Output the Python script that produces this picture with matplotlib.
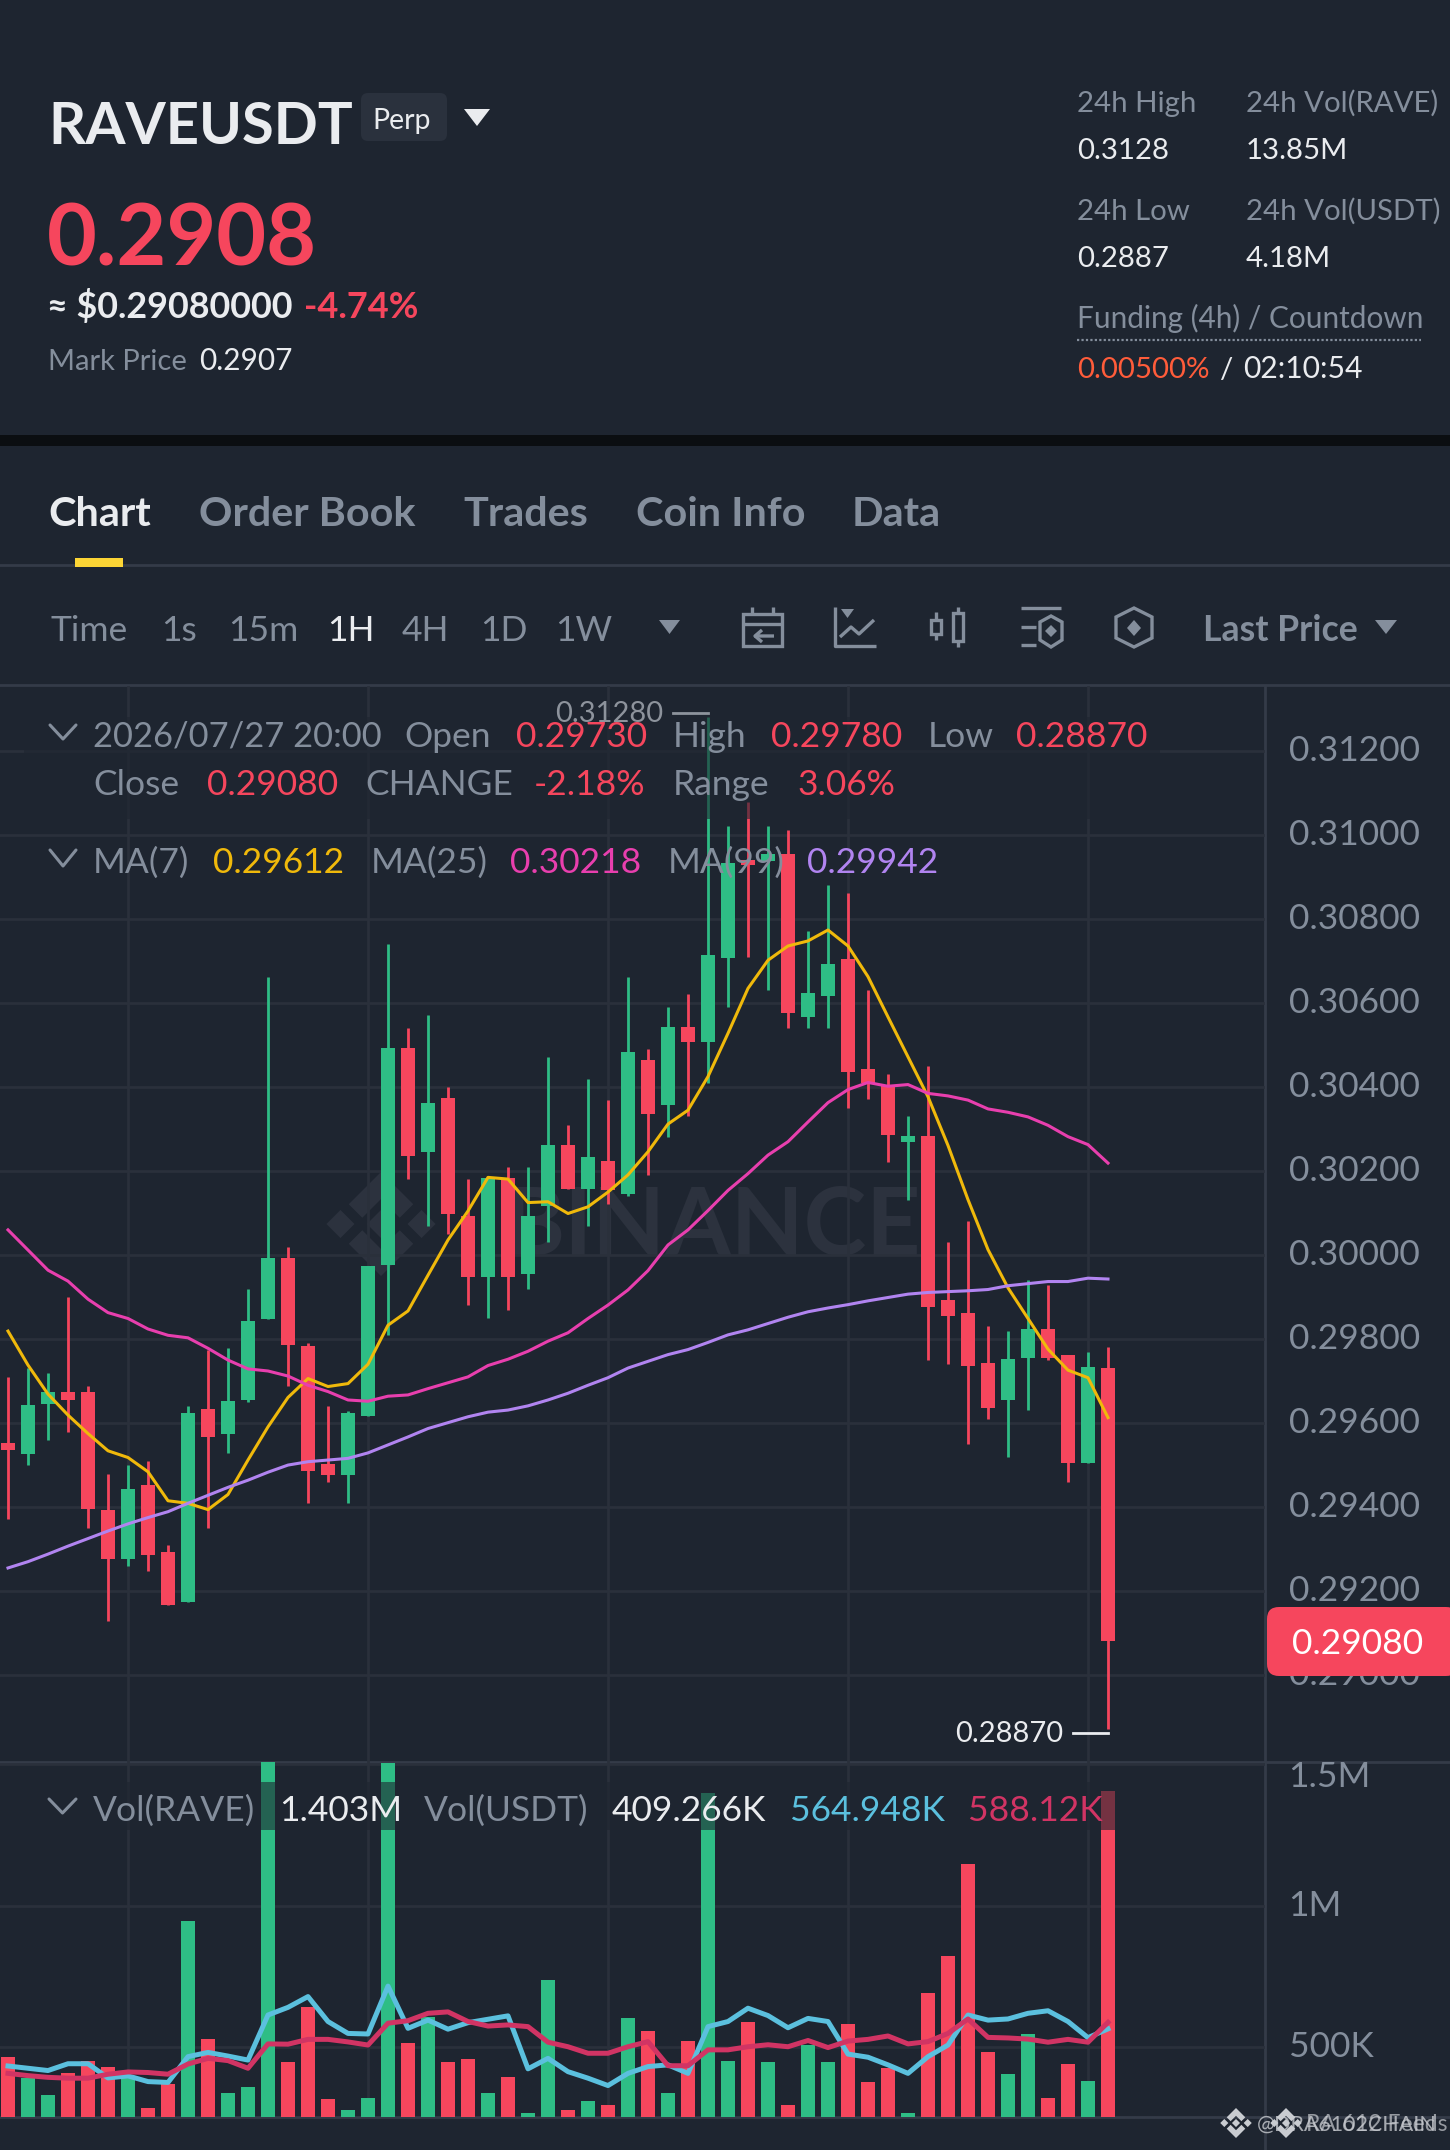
import matplotlib
matplotlib.use('Agg')
from matplotlib import pyplot as plt
from matplotlib.patches import FancyBboxPatch, Polygon, Rectangle
from matplotlib.transforms import ScaledTranslation

W, H = 1450, 2150
BG = '#1e2530'
GRID = '#2a303b'
SEP = '#343b48'
GRAY = '#848e9c'
WHITE = '#eaecef'
GREEN = '#2ebd85'
RED = '#f6465d'
MARK = '#2c323e'

# Candles, hourly, oldest first
opens = [0.29551, 0.29526, 0.29645, 0.29672, 0.29672, 0.29392, 0.29275, 0.29451,
         0.29292, 0.29174, 0.29632, 0.29574, 0.29655, 0.29846, 0.29993, 0.29782,
         0.29501, 0.29475, 0.29615, 0.29975, 0.30493, 0.30245, 0.30373, 0.30093,
         0.29946, 0.30182, 0.29955, 0.30116, 0.30262, 0.30156, 0.30223, 0.30145,
         0.30463, 0.30356, 0.30543, 0.30506, 0.30706, 0.30939, 0.30937, 0.30954,
         0.30566, 0.30616, 0.30703, 0.30443, 0.30404, 0.30269, 0.30282, 0.29893,
         0.29862, 0.29741, 0.29655, 0.29755, 0.29822, 0.29762, 0.29505, 0.2973]
closes = [0.29535, 0.29641, 0.29672, 0.29655, 0.29394, 0.29275, 0.29441, 0.29285,
          0.29165, 0.29622, 0.29565, 0.29651, 0.29842, 0.29993, 0.29785, 0.29485,
          0.29475, 0.29622, 0.29972, 0.30493, 0.30235, 0.30362, 0.30096, 0.29946,
          0.30182, 0.29946, 0.30093, 0.30262, 0.30156, 0.30232, 0.30155, 0.30482,
          0.30336, 0.30543, 0.30506, 0.30713, 0.30933, 0.30927, 0.30953, 0.30576,
          0.30623, 0.30693, 0.30435, 0.30408, 0.30285, 0.30282, 0.29875, 0.29855,
          0.29736, 0.29636, 0.29752, 0.29822, 0.29754, 0.29505, 0.29732, 0.2908]
highs = [0.29708, 0.29729, 0.29718, 0.29899, 0.29688, 0.29478, 0.29498, 0.29508,
         0.29308, 0.29639, 0.29774, 0.29778, 0.29918, 0.3066, 0.30019, 0.29789,
         0.29639, 0.29628, 0.29972, 0.30739, 0.30539, 0.3057, 0.30399, 0.30179,
         0.30185, 0.30209, 0.30209, 0.3047, 0.30308, 0.30419, 0.30368, 0.3066,
         0.30489, 0.30589, 0.3062, 0.3128, 0.3102, 0.31078, 0.3102, 0.3101,
         0.3077, 0.3088, 0.3086, 0.3063, 0.30429, 0.3033, 0.30449, 0.30029,
         0.30079, 0.29829, 0.29818, 0.29939, 0.29927, 0.29762, 0.29768, 0.2978]
lows = [0.2937, 0.29499, 0.29559, 0.29578, 0.29348, 0.29128, 0.29259, 0.29247,
        0.29165, 0.29174, 0.29348, 0.29528, 0.29648, 0.29846, 0.29688, 0.29409,
        0.29459, 0.29409, 0.29615, 0.29809, 0.30179, 0.30069, 0.30049, 0.29879,
        0.29849, 0.29869, 0.29919, 0.30029, 0.30156, 0.30069, 0.3012, 0.3014,
        0.30189, 0.30279, 0.3033, 0.30409, 0.30589, 0.30709, 0.3063, 0.30539,
        0.30539, 0.30539, 0.3035, 0.3037, 0.3022, 0.3013, 0.29749, 0.29739,
        0.29548, 0.29608, 0.29519, 0.29629, 0.29749, 0.29458, 0.29505, 0.2887]

ma7 = [0.29818, 0.29737, 0.29668, 0.29618, 0.29574, 0.29533, 0.29517, 0.29483,
       0.29414, 0.29408, 0.29393, 0.29429, 0.29511, 0.2959, 0.2966, 0.29705,
       0.29686, 0.29693, 0.29739, 0.29832, 0.29866, 0.29951, 0.30035, 0.30104,
       0.30184, 0.3018, 0.30124, 0.30126, 0.30098, 0.30114, 0.30149, 0.3019,
       0.30245, 0.30311, 0.30344, 0.30424, 0.30527, 0.30634, 0.30701, 0.30735,
       0.30747, 0.30773, 0.30735, 0.30662, 0.30566, 0.30471, 0.30376, 0.3026,
       0.30131, 0.30012, 0.29921, 0.29848, 0.29775, 0.29725, 0.29707, 0.29612]
ma25 = [0.30059, 0.30011, 0.29963, 0.29937, 0.29894, 0.29862, 0.29848, 0.29823,
        0.29808, 0.29802, 0.29777, 0.29749, 0.29728, 0.29723, 0.29711, 0.29689,
        0.29674, 0.29654, 0.29651, 0.29663, 0.29666, 0.29681, 0.29695, 0.29709,
        0.29736, 0.29751, 0.2977, 0.29794, 0.29814, 0.29848, 0.2988, 0.29916,
        0.29962, 0.30023, 0.30059, 0.30105, 0.30153, 0.30193, 0.30237, 0.30269,
        0.30316, 0.30362, 0.30393, 0.3041, 0.30401, 0.30405, 0.30384, 0.30378,
        0.30368, 0.30347, 0.30339, 0.30328, 0.30308, 0.30281, 0.30262, 0.30218]
ma99 = [0.29254, 0.29269, 0.29287, 0.29306, 0.29324, 0.29342, 0.29359, 0.29374,
        0.29388, 0.29408, 0.29427, 0.29446, 0.29463, 0.29482, 0.29499, 0.29507,
        0.29511, 0.29515, 0.29528, 0.29547, 0.29566, 0.29586, 0.296, 0.29614,
        0.29625, 0.2963, 0.2964, 0.29654, 0.2967, 0.29689, 0.29707, 0.2973,
        0.29746, 0.29762, 0.29774, 0.29791, 0.29809, 0.29821, 0.29836, 0.29851,
        0.29864, 0.29873, 0.29881, 0.2989, 0.29898, 0.29906, 0.2991, 0.29912,
        0.29914, 0.29917, 0.29926, 0.29931, 0.29936, 0.29936, 0.29944, 0.29942]

# Volume, in thousands of RAVE
volumes = [467, 391, 331, 408, 452, 429, 391, 285, 369, 945, 528, 340, 359, 1516,
           448, 644, 318, 278, 322, 1505, 516, 608, 447, 460, 338, 394, 267, 736,
           279, 311, 295, 604, 556, 339, 522, 1399, 452, 589, 448, 298, 508, 447,
           582, 379, 428, 267, 692, 822, 1146, 482, 405, 546, 321, 440, 381, 1403]
vol_ma_usdt = [434, 426, 418, 442, 442, 392, 399, 379, 376, 467, 482, 469, 455, 614,
               641, 679, 591, 549, 547, 716, 567, 596, 564, 587, 599, 611, 424, 461,
               414, 391, 365, 408, 432, 438, 408, 573, 591, 638, 612, 569, 602, 591,
               476, 465, 438, 408, 467, 508, 614, 596, 600, 620, 629, 591, 534, 565]
vol_ma_rave = [408, 400, 394, 391, 391, 405, 413, 411, 405, 441, 461, 453, 426, 512,
               511, 528, 528, 519, 508, 585, 594, 620, 625, 591, 575, 579, 573, 518,
               502, 479, 479, 502, 520, 435, 435, 491, 491, 502, 509, 502, 524, 499,
               522, 528, 540, 512, 520, 549, 600, 535, 533, 529, 518, 528, 518, 588]

price_ticks = [0.312, 0.310, 0.308, 0.306, 0.304, 0.302, 0.300, 0.298, 0.296, 0.294, 0.292, 0.290]
vol_ticks = [500, 1000, 1500]
vol_tick_labels = ['500K', '1M', '1.5M']
time_ticks = [6, 18, 30, 42, 54]

tabs = [('Chart', 48), ('Order Book', 199), ('Trades', 463), ('Coin Info', 636), ('Data', 852)]
intervals = [('Time', 51), ('1s', 161), ('15m', 228), ('1H', 327), ('4H', 402), ('1D', 480), ('1W', 555)]

plt.rcParams['font.family'] = ['Lato', 'DejaVu Sans']
fig = plt.figure(figsize=(W / 100, H / 100), dpi=100, facecolor=BG)


def px_axes(zorder):
    ax = fig.add_axes([0, 0, 1, 1], zorder=zorder)
    ax.set_xlim(0, W)
    ax.set_ylim(H, 0)
    ax.axis('off')
    ax.patch.set_alpha(0)
    return ax


def pane(top, bottom):
    ax = fig.add_axes([0, 1 - bottom / H, 1265 / W, (bottom - top) / H], zorder=1, facecolor='none')
    # candle i sits at pixel 8 + 20 * i
    ax.set_xlim(-0.4, 62.85)
    ax.set_xticks(time_ticks)
    ax.tick_params(axis='x', length=0, labelbottom=False)
    ax.tick_params(axis='y', length=0, labelcolor=GRAY, labelsize=25.5, pad=17,
                   left=False, labelleft=False, labelright=True)
    ax.grid(color=GRID, lw=2.0)
    ax.set_axisbelow(True)
    for spine in ax.spines.values():
        spine.set_visible(False)
    return ax


def lift_labels(ax):
    for lbl in ax.get_yticklabels():
        lbl.set_transform(lbl.get_transform() + ScaledTranslation(0, 0.03, fig.dpi_scale_trans))


back = px_axes(0)
front = px_axes(5)
ax = pane(686, 1762)
vol_ax = pane(1762, 2117)


def logo(target, cx, cy, s, color):
    d = 0.27 * s
    for ox in (0, -0.78 * s, 0.78 * s):
        target.add_patch(Polygon([(cx + ox - d, cy), (cx + ox, cy - d), (cx + ox + d, cy), (cx + ox, cy + d)],
                                 fc=color, ec='none'))
    for sign in (-1, 1):
        a = cy + sign * s
        pts = [(0, 0), (0.62, 0.62), (0.36, 0.88), (0, 0.52), (-0.36, 0.88), (-0.62, 0.62)]
        target.add_patch(Polygon([(cx + px * s, a - sign * py * s) for px, py in pts], fc=color, ec='none'))


# header and toolbar background bits
back.add_patch(Rectangle((0, 435), W, 11, fc='#0b0e11', ec='none'))
for y in (565, 685, 1762, 2117):
    back.plot([0, W], [y, y], color=SEP, lw=2.0)
back.plot([1265, 1265], [686, H], color=SEP, lw=2.0)
logo(back, 381, 1224, 52, MARK)
back.text(502, 1255, 'BINANCE', color=MARK, fontsize=68, fontweight='bold', va='baseline')


def label(x, y, s, color=GRAY, size=25.5, weight='normal', **kw):
    return front.text(x, y, s, color=color, fontsize=size, fontweight=weight, va='baseline', **kw)


def tri(x0, x1, y0, y1, color):
    front.add_patch(Polygon([(x0, y0), (x1, y0), ((x0 + x1) / 2, y1)], fc=color, ec='none'))


def chevron(x0, x1, y0, y1):
    front.plot([x0, (x0 + x1) / 2, x1], [y0, y1, y0], color=GRAY, lw=2.2, solid_capstyle='round')


# main pane
x = range(len(closes))
for i in x:
    c = GREEN if closes[i] >= opens[i] else RED
    ax.vlines(i, lows[i], highs[i], color=c, lw=2.0, zorder=3)
    ax.bar(i, abs(closes[i] - opens[i]), bottom=min(opens[i], closes[i]), width=0.7, color=c, zorder=3)
ax.plot(x, ma7, color='#f0b90b', lw=2.2, zorder=4)
ax.plot(x, ma25, color='#e83fae', lw=2.2, zorder=4)
ax.plot(x, ma99, color='#b184f0', lw=2.2, zorder=4)
ax.set_ylim(0.28792, 0.31354)
ax.set_yticks(price_ticks)
ax.set_yticklabels([f'{v:.5f}' for v in price_ticks])
lift_labels(ax)

# volume pane
vol_colors = [GREEN if closes[i] >= opens[i] else RED for i in x]
vol_ax.bar(x, volumes, width=0.7, color=vol_colors, zorder=3)
vol_ax.plot(x, vol_ma_usdt, color='#5bc0de', lw=3.6, zorder=4)
vol_ax.plot(x, vol_ma_rave, color='#d13464', lw=3.6, zorder=4)
vol_ax.set_ylim(254, 1507)
vol_ax.set_yticks(vol_ticks)
vol_ax.set_yticklabels(vol_tick_labels)
vol_ax.get_yticklabels()[2].set_va('top')
lift_labels(vol_ax)

# dim strips under the indicator legends
front.add_patch(Rectangle((24, 717), 1136, 102, fc=BG, ec='none', alpha=0.6, zorder=1))
front.add_patch(Rectangle((24, 1782), 1100, 48, fc=BG, ec='none', alpha=0.6, zorder=1))

# last price flag and extremes
front.add_patch(FancyBboxPatch((1275, 1615), 175, 53, boxstyle='round,pad=8,rounding_size=12',
                               fc=RED, ec='none', clip_on=True))
label(1292, 1654, '0.29080', color='white')
label(555, 722, '0.31280', color='#8d939c', size=21)
front.plot([673, 708], [713, 713], color='#8d939c', lw=2)
label(955, 1742, '0.28870', color=WHITE, size=21)
front.plot([1073, 1108], [1733, 1733], color=WHITE, lw=2)

# header left
label(48, 144, 'RAVEUSDT', color=WHITE, size=41.8, weight='bold')
front.add_patch(FancyBboxPatch((366, 98), 76, 38, boxstyle='round,pad=5,rounding_size=7', fc='#2a313d', ec='none'))
label(372, 129, 'Perp', color=WHITE, size=20.5)
tri(464, 490, 109, 126, WHITE)
label(47, 265, '0.2908', color=RED, size=62, weight='bold')
label(47, 318, '≈ $0.29080000', color=WHITE, size=25.8, weight='bold')
label(304, 318, '-4.74%', color=RED, size=26, weight='bold')
label(48, 370, 'Mark Price', size=21)
label(199, 370, '0.2907', color=WHITE, size=21.5)

# header right
for col, head, val in [(1077, '24h High', '0.3128'), (1246, '24h Vol(RAVE)', '13.85M')]:
    label(col, 112, head, size=21.2)
    label(col, 159, val, color=WHITE, size=21.2)
for col, head, val in [(1077, '24h Low', '0.2887'), (1246, '24h Vol(USDT)', '4.18M')]:
    label(col, 220, head, size=21.2)
    label(col, 267, val, color=WHITE, size=21.2)
label(1077, 328, 'Funding (4h) / Countdown', size=21.4)
front.plot([1077, 1421], [340, 340], color=GRAY, lw=1.6, ls=(0, (1, 1)))
label(1077, 378, '0.00500%', color='#ff5c3a', size=21.2)
label(1219, 378, '/', color=WHITE, size=21.2)
label(1243, 378, '02:10:54', color=WHITE, size=21.6)

# tabs
for name, tx in tabs:
    label(tx, 526, name, color=WHITE if name == 'Chart' else GRAY, size=29.8, weight='bold')
front.add_patch(Rectangle((75, 558), 48, 9, fc='#fcd535', ec='none'))

# toolbar
for name, tx in intervals:
    label(tx, 641, name, color=WHITE if name == '1H' else GRAY)
tri(659, 680, 620, 634, GRAY)
label(1203, 641, 'Last Price', size=25.7, weight='bold')
tri(1375, 1397, 620, 634, GRAY)

# toolbar icons
ic = dict(color=GRAY, lw=2.4, solid_capstyle='butt')
front.add_patch(Rectangle((743, 614), 39, 32, fc='none', ec=GRAY, lw=2.4))
front.plot([743, 782], [624, 624], **ic)
front.plot([752, 752], [607, 615], **ic)
front.plot([773, 773], [607, 615], **ic)
front.plot([774, 755, 762], [636, 636, 630], **ic)
front.plot([755, 762], [636, 642], **ic)
front.plot([835, 835, 876], [607, 646, 646], **ic)
front.plot([840, 851, 859, 874], [637, 627, 634, 620], **ic)
tri(841, 854, 609, 618, GRAY)
for cx, y0, y1, b0, b1 in [(936, 612, 640, 620, 634), (958, 607, 647, 613, 641)]:
    front.plot([cx, cx], [y0, y1], **ic)
    front.add_patch(Rectangle((cx - 5, b0), 10, b1 - b0, fc=BG, ec=GRAY, lw=2.4, zorder=6))
front.plot([1021, 1061], [608, 608], **ic)
front.plot([1021, 1036], [627, 627], **ic)
front.plot([1021, 1036], [645, 645], **ic)
front.add_patch(Polygon([(1051, 616), (1062, 622), (1062, 640), (1051, 647), (1040, 640), (1040, 622)],
                        fc='none', ec=GRAY, lw=2.4))
front.add_patch(Polygon([(1051, 625), (1057, 631), (1051, 637), (1045, 631)], fc=GRAY, ec='none'))
front.add_patch(Polygon([(1134, 608), (1152, 617), (1152, 638), (1134, 647), (1116, 638), (1116, 617)],
                        fc='none', ec=GRAY, lw=2.4))
front.add_patch(Polygon([(1134, 620), (1141, 628), (1134, 636), (1127, 628)], fc=GRAY, ec='none'))

# indicator legends
chevron(50, 76, 725, 739)
label(93, 747, '2026/07/27 20:00', size=24.8)
for tx, y, s, col in [(404, 747, 'Open', GRAY), (516, 747, '0.29730', RED),
                      (673, 747, 'High', GRAY), (771, 747, '0.29780', RED), (928, 747, 'Low', GRAY),
                      (1016, 747, '0.28870', RED),
                      (93, 795, 'Close', GRAY), (207, 795, '0.29080', RED), (365, 795, 'CHANGE', GRAY),
                      (534, 795, '-2.18%', RED), (673, 795, 'Range', GRAY), (798, 795, '3.06%', RED),
                      (93, 873, 'MA(7)', GRAY), (213, 873, '0.29612', '#f0b90b'), (371, 873, 'MA(25)', GRAY),
                      (510, 873, '0.30218', '#e83fae'), (668, 873, 'MA(99)', GRAY), (807, 873, '0.29942', '#b184f0')]:
    label(tx, y, s, color=col)
chevron(50, 76, 850, 866)
chevron(49, 76, 1799, 1813)
for tx, s, col in [(93, 'Vol(RAVE)', GRAY), (279, '1.403M', WHITE), (424, 'Vol(USDT)', GRAY),
                   (612, '409.266K', WHITE), (790, '564.948K', '#5bc0de'), (968, '588.12K', '#d13464')]:
    label(tx, 1821, s, color=col)

# two stacked source marks in the corner
logo(front, 1236, 2123, 15, '#c9ccd1')
logo(front, 1286, 2123, 15, '#c9ccd1')
label(1257, 2131, '@DRA6102CHAIN', color='#c9ccd1', size=15.5, alpha=0.8)
label(1306, 2131, 'RA 612 Feeds', color='#c9ccd1', size=16.5, alpha=0.7)

plt.savefig('out.png', dpi=100, facecolor=BG)
